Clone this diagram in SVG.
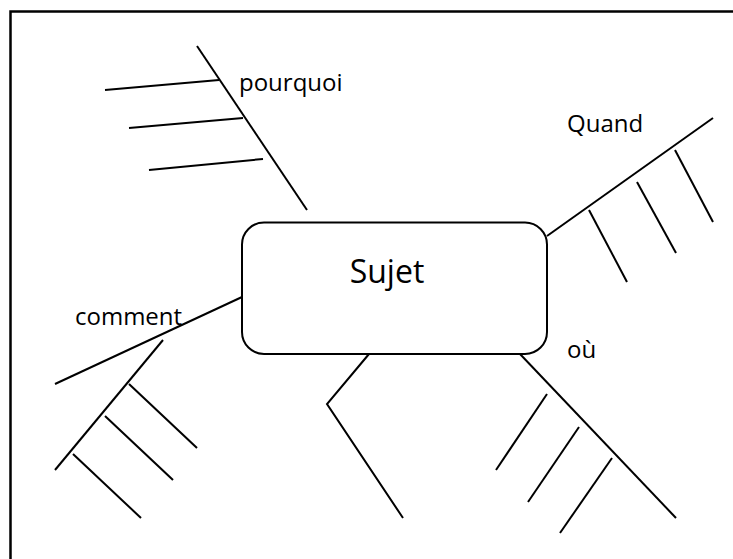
<svg xmlns="http://www.w3.org/2000/svg" width="733" height="559" viewBox="0 0 733 559">
<style>
.ln{stroke:#000;stroke-width:2;fill:none;stroke-linecap:butt;stroke-linejoin:miter}
.lbl{font-family:"Open Sans","Liberation Sans",sans-serif;font-size:24px;fill:#000}
.big{font-family:"Open Sans","Liberation Sans",sans-serif;font-size:32px;fill:#000}
</style>
<rect x="0" y="0" width="733" height="559" fill="#fff"/>
<path d="M10.5,570 V11.5 H745" stroke="#000" stroke-width="2.5" fill="none"/>
<g id="connectors">
<path class="ln" d="M197,46 L307,210"/>
<path class="ln" d="M105,90 L219,80"/>
<path class="ln" d="M129,128 L243,118"/>
<path class="ln" d="M149,170 L263,159"/>
<path class="ln" d="M547,236 L713,118"/>
<path class="ln" d="M589,210 L627,282"/>
<path class="ln" d="M637,182 L676,253"/>
<path class="ln" d="M675,150 L713,222"/>
<path class="ln" d="M55,384 L242,297"/>
<path class="ln" d="M163,340 L55,470"/>
<path class="ln" d="M129,384 L197,448"/>
<path class="ln" d="M105,416 L173,480"/>
<path class="ln" d="M73,454 L141,518"/>
<path class="ln" d="M369,354 L327,404 L403,518"/>
<path class="ln" d="M520,354 L676,518"/>
<path class="ln" d="M547,394 L496,470"/>
<path class="ln" d="M579,427 L528,502"/>
<path class="ln" d="M612,458 L560,533"/>
</g>
<g id="sujet">
<rect class="ln" x="242" y="222.5" width="305" height="131.5" rx="22" ry="22" fill="#fff"/>
<text class="big" x="387" y="283" text-anchor="middle">Sujet</text>
</g>
<g id="pourquoi"><text class="lbl" x="239" y="91">pourquoi</text></g>
<g id="quand"><text class="lbl" x="567" y="132">Quand</text></g>
<g id="comment"><text class="lbl" x="75" y="325">comment</text></g>
<g id="ou"><text class="lbl" x="567" y="358">où</text></g>
</svg>
